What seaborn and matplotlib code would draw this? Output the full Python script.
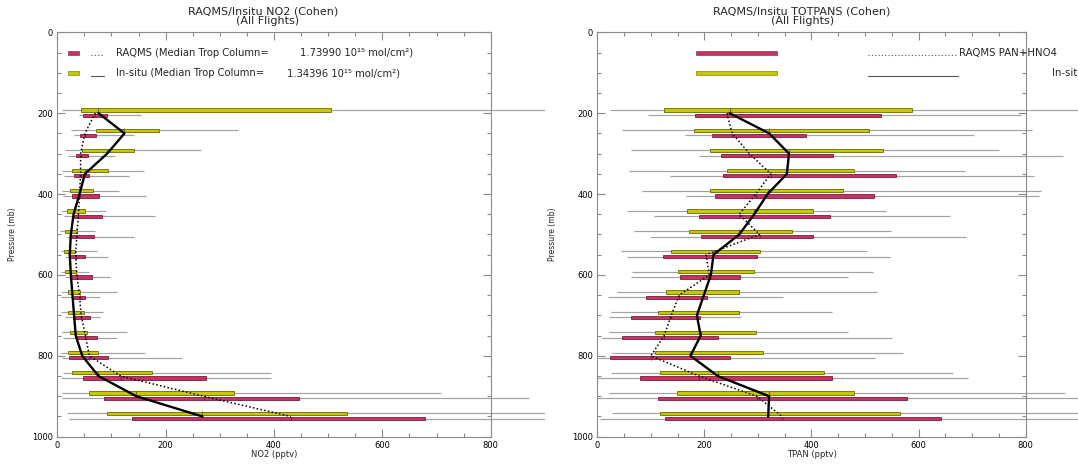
import numpy as np
import matplotlib
matplotlib.use("Agg")
import matplotlib.pyplot as plt
import seaborn as sns
from matplotlib.ticker import MultipleLocator
from matplotlib.transforms import Bbox, TransformedBbox

# ---------------------------------------------------------------- data
levels = [200, 250, 300, 350, 400, 450, 500, 550, 600, 650, 700, 750, 800, 850, 900, 950]

# NO2 (pptv): median, quartiles and full range per pressure bin
no2_insitu_med = [76, 124, 92, 51, 41, 30, 25, 23, 25, 28, 31, 34, 46, 76, 146, 268]
no2_insitu_q1 = [43, 71, 46, 27, 24, 18, 14, 13, 15, 19, 19, 23, 20, 27, 58, 91]
no2_insitu_q3 = [506, 188, 142, 93, 65, 52, 37, 33, 34, 41, 50, 54, 76, 175, 327, 535]
no2_insitu_lo = [8, 25, 14, 9, 9, 6, 5, 6, 6, 7, 7, 8, 6, 10, 9, 18]
no2_insitu_hi = [1010, 334, 265, 160, 114, 90, 70, 74, 59, 110, 85, 128, 162, 394, 708, 1050]

no2_raqms_med = [70, 51, 43, 43, 41, 39, 36, 34, 36, 41, 44, 52, 59, 117, 270, 431]
no2_raqms_q1 = [48, 41, 34, 30, 28, 30, 27, 22, 25, 30, 29, 34, 22, 48, 87, 137]
no2_raqms_q3 = [91, 71, 56, 58, 77, 82, 67, 51, 64, 51, 61, 73, 93, 274, 447, 679]
no2_raqms_lo = [40, 30, 20, 13, 11, 12, 17, 15, 14, 7, 15, 10, 8, 6, 8, 22]
no2_raqms_hi = [154, 142, 106, 133, 163, 180, 142, 94, 98, 78, 79, 110, 231, 395, 871, 1100]

# TPAN (pptv)
tpan_insitu_med = [247, 321, 358, 354, 318, 293, 265, 217, 212, 199, 186, 193, 174, 225, 321, 319]
tpan_insitu_q1 = [125, 181, 210, 243, 210, 168, 171, 138, 150, 129, 113, 107, 108, 118, 148, 118]
tpan_insitu_q3 = [588, 507, 533, 479, 458, 403, 364, 304, 293, 264, 265, 296, 310, 423, 480, 565]
tpan_insitu_lo = [24, 47, 63, 60, 84, 55, 68, 44, 64, 37, 25, 21, 28, 25, 21, 28]
tpan_insitu_hi = [960, 811, 751, 687, 829, 540, 548, 504, 514, 523, 439, 469, 570, 664, 873, 1000]

tpan_raqms_med = [242, 252, 284, 324, 296, 265, 303, 203, 209, 153, 138, 125, 100, 190, 298, 345]
tpan_raqms_q1 = [182, 215, 231, 234, 219, 190, 194, 123, 154, 91, 62, 47, 23, 80, 114, 127]
tpan_raqms_q3 = [529, 389, 440, 557, 516, 435, 403, 298, 267, 204, 191, 225, 247, 439, 578, 641]
tpan_raqms_lo = [95, 164, 190, 136, 166, 106, 98, 55, 63, 20, 21, 8, 2, 0, 0, 5]
tpan_raqms_hi = [791, 704, 869, 816, 824, 659, 688, 547, 469, 347, 269, 550, 519, 693, 960, 1000]

x_ticks = [0, 200, 400, 600, 800]
y_ticks = [0, 200, 400, 600, 800, 1000]

no2_col_raqms = "1.73990"
no2_col_insitu = "1.34396"

# ---------------------------------------------------------------- style
sns.set_theme(style="ticks")
plt.rcParams["font.family"] = ["DejaVu Sans"]

RED, RED_EDGE = "#c8325f", "#7a1d3d"
YEL, YEL_EDGE = "#c8c800", "#6a6a00"
WHISK = "#a3a3a3"
AXC = "#8a8a8a"
BOX_H = 8
OFF_INSITU, OFF_RAQMS = -8, 5

W, H = 1078, 465
fig = plt.figure(figsize=(W / 100, H / 100), dpi=100)
ax_l = fig.add_axes([57.3 / W, 28.3 / H, 433.4 / W, 404.4 / H])
ax_r = fig.add_axes([597.3 / W, 28.3 / H, 428.4 / W, 404.4 / H])

# whiskers may run past the frame; the left panel's region stops short of the right panel
clip_left = TransformedBbox(Bbox([[0, 0], [545 / W, 1]]), fig.transFigure)
clip_right = TransformedBbox(Bbox([[0, 0], [1, 1]]), fig.transFigure)


def draw_profile(ax, med, q1, q3, lo, hi, color, edge, offset, clip):
    y = np.asarray(levels, float) + offset
    wl = ax.hlines(y, lo, hi, colors=WHISK, lw=0.85, zorder=2)
    wl.set_clip_box(clip)
    ax.barh(y, np.subtract(q3, q1), left=q1, height=BOX_H, color=color,
            edgecolor=edge, linewidth=0.6, zorder=3)
    ax.vlines(med, y - BOX_H / 2 - 0.5, y + BOX_H / 2 + 0.5, colors=edge, lw=0.8, zorder=4)


def draw_medians(ax, insitu_med, raqms_med):
    sns.lineplot(x=raqms_med, y=levels, orient="y", sort=False, color="black",
                 lw=1.1, linestyle=(0, (1, 1.5)), ax=ax, zorder=5)
    sns.lineplot(x=insitu_med, y=levels, orient="y", sort=False, color="black",
                 lw=1.7, ax=ax, zorder=6)


def style_axes(ax, xlabel):
    ax.set_xlim(0, 800)
    ax.set_ylim(1000, 0)
    ax.set_xticks(x_ticks)
    ax.set_yticks(y_ticks)
    ax.xaxis.set_minor_locator(MultipleLocator(50))
    ax.yaxis.set_minor_locator(MultipleLocator(50))
    ax.tick_params(which="both", direction="in", top=True, right=True,
                   colors=AXC, labelcolor="black", labelsize=6, width=0.8)
    ax.tick_params(which="major", length=6, pad=3)
    ax.tick_params(which="minor", length=3)
    for sp in ax.spines.values():
        sp.set_color(AXC)
        sp.set_linewidth(0.8)
    ax.set_xlabel(xlabel, fontsize=6, va="top")
    ax.xaxis.set_label_coords(0.5, -0.033)
    ax.set_ylabel("Pressure (mb)", fontsize=5.5)
    ax.yaxis.set_label_coords(-0.093, 0.5)
    ax.set_facecolor("white")


# ---------------------------------------------------------------- NO2 panel
draw_profile(ax_l, no2_insitu_med, no2_insitu_q1, no2_insitu_q3, no2_insitu_lo, no2_insitu_hi,
             YEL, YEL_EDGE, OFF_INSITU, clip_left)
draw_profile(ax_l, no2_raqms_med, no2_raqms_q1, no2_raqms_q3, no2_raqms_lo, no2_raqms_hi,
             RED, RED_EDGE, OFF_RAQMS, clip_left)
draw_medians(ax_l, no2_insitu_med, no2_raqms_med)
style_axes(ax_l, "NO2 (pptv)")

# key
ax_l.barh([51], [20], left=20, height=10, color=RED, edgecolor=RED_EDGE, lw=0.4)
ax_l.barh([101], [20], left=20, height=10, color=YEL, edgecolor=YEL_EDGE, lw=0.4)
ax_l.plot([63, 86], [57, 57], color="#555555", lw=0.8, linestyle=(0, (1, 2)))
ax_l.plot([63, 86], [109, 109], color="#555555", lw=0.8)
ax_l.text(108, 51, "RAQMS (Median Trop Column=", fontsize=7.2, va="center")
ax_l.text(448, 51, f"{no2_col_raqms} 10\u00b9\u2075 mol/cm\u00b2)", fontsize=7.2, va="center")
ax_l.text(108, 101, "In-situ (Median Trop Column=", fontsize=7.2, va="center")
ax_l.text(424, 101, f"{no2_col_insitu} 10\u00b9\u2075 mol/cm\u00b2)", fontsize=7.2, va="center")

# ---------------------------------------------------------------- TPAN panel
draw_profile(ax_r, tpan_insitu_med, tpan_insitu_q1, tpan_insitu_q3, tpan_insitu_lo, tpan_insitu_hi,
             YEL, YEL_EDGE, OFF_INSITU, clip_right)
draw_profile(ax_r, tpan_raqms_med, tpan_raqms_q1, tpan_raqms_q3, tpan_raqms_lo, tpan_raqms_hi,
             RED, RED_EDGE, OFF_RAQMS, clip_right)
draw_medians(ax_r, tpan_insitu_med, tpan_raqms_med)
style_axes(ax_r, "TPAN (pptv)")

# key (runs off the right edge of the page)
ax_r.barh([51], [151], left=184, height=11, color=RED, edgecolor=RED_EDGE, lw=0.4)
ax_r.barh([101], [151], left=184, height=11, color=YEL, edgecolor=YEL_EDGE, lw=0.4)
ax_r.plot([505, 673], [57, 57], color="#555555", lw=0.8, linestyle=(0, (1, 2)))
ax_r.plot([505, 673], [108, 108], color="#555555", lw=0.8)
ax_r.text(675, 50, "RAQMS PAN+HNO4", fontsize=7.3, va="center")
ax_r.text(849, 101, "In-situ TOTPANS", fontsize=7.3, va="center")

# ---------------------------------------------------------------- titles
for cx, cx2, name in [(263, 268, "RAQMS/Insitu NO2 (Cohen)"),
                      (802, 803, "RAQMS/Insitu TOTPANS (Cohen)")]:
    fig.text(cx / W, 1 - 11.5 / H, name, ha="center", va="center", fontsize=8)
    fig.text(cx2 / W, 1 - 21.5 / H, "(All Flights)", ha="center", va="center", fontsize=8)

fig.savefig("out.png", dpi=100, facecolor="white")
